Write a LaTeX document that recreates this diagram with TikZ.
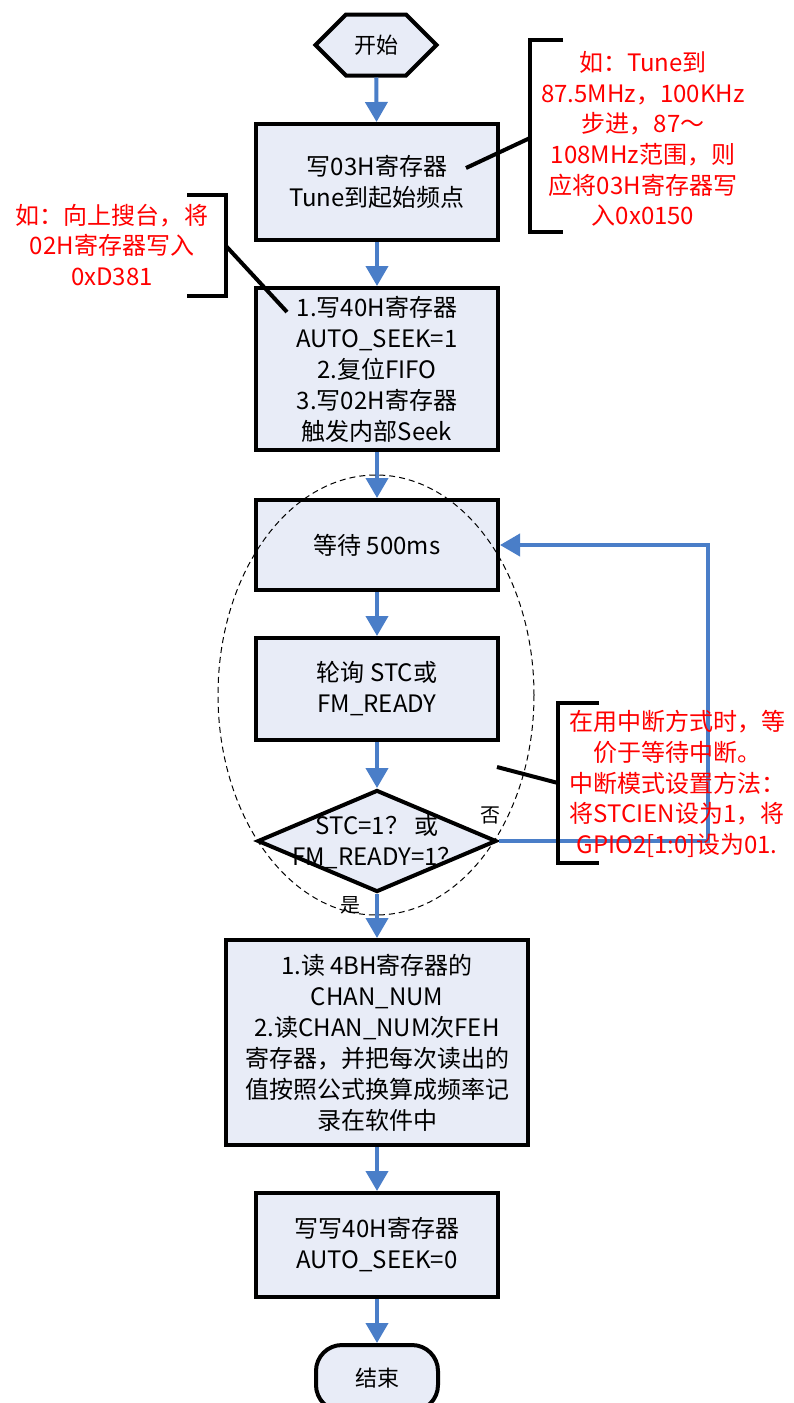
\documentclass[tikz,border=0pt]{standalone}
\usepackage{fontspec}
\setmainfont{Noto Sans CJK SC}
\usetikzlibrary{arrows.meta, shapes.geometric, shapes.symbols}

\definecolor{boxfill}{RGB}{232,236,247}
\definecolor{flowblue}{RGB}{74,126,200}

\tikzset{
  process/.style={draw, line width=2pt, fill=boxfill, inner sep=0pt, align=center,
    minimum width=121pt, font=\fontsize{12}{15.5}\selectfont},
  decision/.style={draw, line width=2pt, fill=boxfill, diamond, inner sep=0pt,
    minimum width=119.5pt, minimum height=51pt},
  flow/.style={draw=flowblue, line width=2pt, -{Triangle[length=10pt,width=11pt]}},
  note/.style={text=red, align=center, font=\fontsize{12}{15.3}\selectfont},
  bracket/.style={line width=2pt},
  answer/.style={font=\fontsize{10}{12}\selectfont}
}

\begin{document}
\begin{tikzpicture}[x=0.5pt, y=-0.5pt]
\useasboundingbox (0,0) rectangle (793,1403);

% Start
\node[draw, line width=2pt, fill=boxfill, shape=signal, signal to=east and west,
  minimum width=60.5pt, minimum height=30.5pt, inner sep=0pt,
  font=\fontsize{11}{13}\selectfont] (start) at (376,45) {开始};

% Steps
\node[process, minimum height=58pt] (tune) at (377,182) {写03H寄存器\\Tune到起始频点};
\node[process, minimum height=81pt] (seek) at (377,369)
  {1.写40H寄存器\\AUTO\_SEEK=1\\2.复位FIFO\\3.写02H寄存器\\触发内部Seek};
\node[process, minimum height=45pt] (wait) at (377,545) {等待 500ms};
\node[process, minimum height=51pt] (poll) at (377,689) {轮询 STC或\\FM\_READY};
\node[decision] (dec) at (377,841) {};
\node[align=center, font=\fontsize{12}{15.5}\selectfont] (dectext) at (377,842)
  {STC=1？ 或\\FM\_READY=1？};
\node[process, minimum width=151pt, minimum height=102.5pt] (read) at (377,1042.5)
  {1.读 4BH寄存器的\\CHAN\_NUM\\2.读CHAN\_NUM次FEH\\寄存器，并把每次读出的\\值按照公式换算成频率记\\录在软件中};
\node[process, minimum height=52pt] (stop) at (377,1245) {写写40H寄存器\\AUTO\_SEEK=0};

% End
\node[draw, line width=2pt, fill=boxfill, rounded corners=13pt, inner sep=0pt,
  minimum width=61pt, minimum height=33pt,
  font=\fontsize{11}{13}\selectfont] (finish) at (377,1378) {结束};

% Main flow
\draw[flow] (start) -- (tune);
\draw[flow] (tune) -- (seek);
\draw[flow] (seek) -- (wait);
\draw[flow] (wait) -- (poll);
\draw[flow] (poll) -- (dec);
\draw[flow] (dec) -- (read);
\draw[flow] (read) -- (stop);
\draw[flow] (stop) -- (finish);

% Loop back
\coordinate (loopR) at (708,841);
\draw[flow] (dec.east) -- (loopR) |- (wait.east);
\node[answer] (no) at (490,815) {否};
\node[answer] (yes) at (350,905) {是};

% Dashed ellipse
\draw[dashed, line width=0.5pt, dash pattern=on 3pt off 2pt] (376,695) ellipse [x radius=158, y radius=220];

% Note on the start frequency
\node[note] (noteTune) at (643,139)
  {如：Tune到\\87.5MHz，100KHz\\步进，87～\\108MHz范围，则\\应将03H寄存器写\\入0x0150};
\draw[bracket] (563,40) -- (530,40) -- (530,232) -- (563,232);
\coordinate (tuneTip) at (466,168);
\coordinate (tuneBr) at (530,138);
\draw[bracket] (tuneTip) -- (tuneBr);

% Note on seek up
\node[note] (noteSeek) at (112,245) {如：向上搜台，将\\02H寄存器写入\\0xD381};
\draw[bracket] (187,195) -- (226,195) -- (226,296) -- (187,296);
\coordinate (seekBr) at (226,246);
\coordinate (seekTip) at (287,312);
\draw[bracket] (seekBr) -- (seekTip);

% Note on interrupt mode
\node[note] (noteInt) at (677,784)
  {在用中断方式时，等\\价于等待中断。\\中断模式设置方法：\\将STCIEN设为1，将\\GPIO2[1:0]设为01.};
\draw[bracket] (599,703) -- (558,703) -- (558,863) -- (599,863);
\coordinate (intTip) at (497,767);
\coordinate (intBr) at (558,783);
\draw[bracket] (intTip) -- (intBr);

\end{tikzpicture}
\end{document}
